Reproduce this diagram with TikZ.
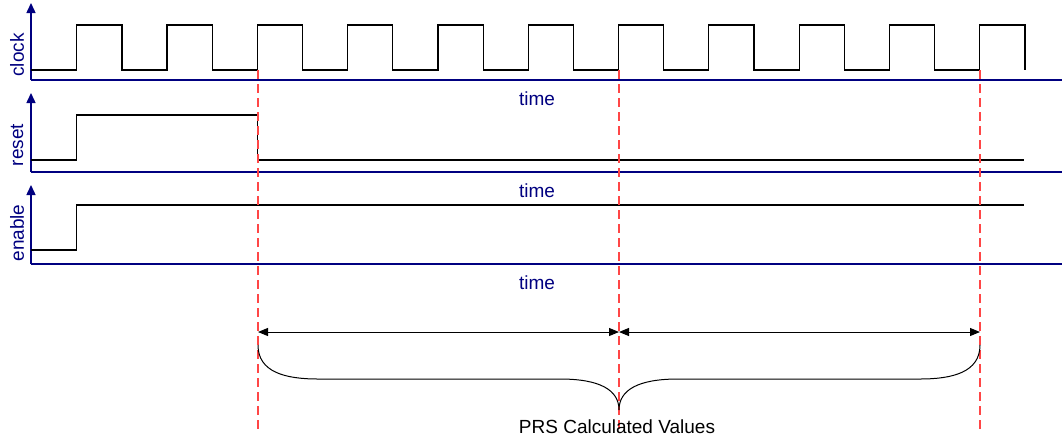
\documentclass[tikz,border=0pt]{standalone}
\usepackage{fontspec}
\setmainfont{Liberation Sans}
\usetikzlibrary{arrows.meta}
\definecolor{axisblue}{RGB}{0,0,128}
\definecolor{markred}{RGB}{255,70,70}
\begin{document}
\begin{tikzpicture}[x=1pt,y=-1pt,
    axis/.style={draw=axisblue, line width=1.5pt},
    wave/.style={draw=black, line width=1.2pt},
    marker/.style={draw=markred, line width=2pt, dash pattern=on 9pt off 5pt},
    lbl/.style={text=axisblue, font=\fontsize{19}{22}\selectfont, inner sep=0pt},
    span/.style={draw=black, line width=1pt, {Triangle[length=10pt,width=8pt]}-{Triangle[length=10pt,width=8pt]}}]
    \useasboundingbox (0,0) rectangle (1062,440);
    % axes and their labels
    \foreach \sig/\yb/\yt/\yl in {clock/80/3/55, reset/172/93/145, enable/264/185/233} {
        \coordinate (\sig O) at (31,\yb);
        \coordinate (\sig Y) at (31,\yt);
        \coordinate (\sig X) at (1073,\yb);
        \draw[axis, -{Triangle[length=10pt,width=9pt]}] (\sig O) -- (\sig Y);
        \draw[axis, -{Triangle[length=10pt,width=9pt]}] (\sig O) -- (\sig X);
        \node[lbl, rotate=90] (\sig L) at (17,\yl) {\sig};
        \node[lbl] (\sig T) at (537,\yb+19) {time};
    }
    % signals
    \draw[wave] (31,70) \foreach \i in {0,...,10} {
        -- ({76.7+90.3*\i},70) -- ++(0,-45) -- ++(45.2,0) -- ++(0,45)};
    \draw[wave] (31,160) -- (76.7,160) -- (76.7,115) -- (257.5,115) -- (257.5,160) -- (1024,160);
    \draw[wave] (31,250) -- (76.7,250) -- (76.7,205) -- (1024,205);
    % markers
    \foreach \m/\x in {1/258, 2/619, 3/980} {
        \coordinate (m\m top) at (\x,70);
        \coordinate (m\m bot) at (\x,432);
        \coordinate (m\m) at (\x,332);
        \draw[marker] (m\m top) -- (m\m bot);
    }
    \draw[span] (m1) -- (m2);
    \draw[span] (m2) -- (m3);
    % brace
    \draw[black, line width=1pt] (258,345) .. controls (258,372) and (285,379) .. (318,379)
        -- (560,379) .. controls (600,379) and (619,390) .. (619,410)
        .. controls (619,390) and (638,379) .. (678,379)
        -- (920,379) .. controls (953,379) and (980,372) .. (980,345);
    \node[lbl, text=black] (prs) at (617,427) {PRS Calculated Values};
\end{tikzpicture}
\end{document}
